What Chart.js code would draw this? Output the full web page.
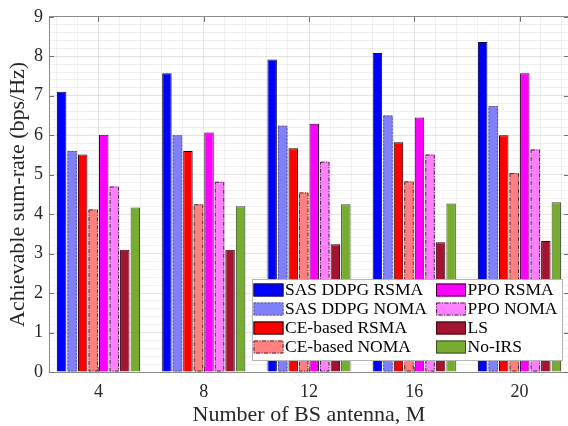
<!DOCTYPE html>
<html lang="en">
<head>
<meta charset="utf-8" />
<title>Achievable sum-rate vs BS antennas</title>
<script src="https://cdn.jsdelivr.net/npm/chart.js"></script>
<style>
    html, body { margin: 0; padding: 0; background: #fff; overflow: hidden; }
</style>
</head>
<body>
<canvas id="rateChart" width="570" height="426"></canvas>
<script>
    // number of BS antennas (x axis)
    var antennas = [4, 8, 12, 16, 20];

    // achievable sum-rate per scheme (bps/Hz)
    var sasDdpgRsma = [7.10, 7.57, 7.92, 8.08, 8.36];
    var sasDdpgNoma = [5.60, 6.00, 6.24, 6.50, 6.74];
    var ceRsma      = [5.51, 5.60, 5.67, 5.82, 6.00];
    var ceNoma      = [4.12, 4.25, 4.55, 4.83, 5.04];
    var ppoRsma     = [6.01, 6.07, 6.29, 6.45, 7.57];
    var ppoNoma     = [4.70, 4.82, 5.33, 5.51, 5.64];
    var lsRate      = [3.10, 3.10, 3.24, 3.29, 3.32];
    var noIrs       = [4.17, 4.20, 4.25, 4.27, 4.30];

    var seriesNames = ['SAS DDPG RSMA', 'SAS DDPG NOMA', 'CE-based RSMA', 'CE-based NOMA',
                       'PPO RSMA', 'PPO NOMA', 'LS', 'No-IRS'];
    var seriesValues = [sasDdpgRsma, sasDdpgNoma, ceRsma, ceNoma, ppoRsma, ppoNoma, lsRate, noIrs];

    // fill, edge colour and (for NOMA bars) edge dash pattern
    var styles = [
        { fill: '#0000ff', edge: '#10104a' },
        { fill: '#8080ff', edge: '#5a5a7a', dash: [2, 1.5] },
        { fill: '#ff0000', edge: '#1a0000' },
        { fill: '#ff8080', edge: '#4a3030', dash: [4, 1.5, 1, 1.5] },
        { fill: '#ff00ff', edge: '#3a003a' },
        { fill: '#ff80ff', edge: '#3a2a3a', dash: [4, 1.5, 1, 1.5] },
        { fill: '#a2142f', edge: '#3a0810' },
        { fill: '#77ac30', edge: '#3a4a2a' }
    ];

    var xMin = 2.12, xMax = 21.88;
    var textColor = '#262626';
    var axisColor = '#8c8c8c';
    var majorGrid = 'rgba(0,0,0,0.11)';
    var minorGrid = 'rgba(0,0,0,0.06)';
    var serif = 'Liberation Serif';

    var datasets = seriesNames.map(function (name, s) {
        var st = styles[s];
        return {
            label: name,
            data: seriesValues[s].map(function (v, i) { return { x: antennas[i], y: v }; }),
            backgroundColor: st.fill,
            borderColor: st.edge,
            borderWidth: st.dash ? 0 : 1,
            edgeDash: st.dash || null,
            categoryPercentage: 0.8,
            barPercentage: 0.9
        };
    });

    // dashed outlines for the NOMA bars
    var dashedEdges = {
        id: 'dashedEdges',
        afterDatasetsDraw: function (chart) {
            var ctx = chart.ctx;
            chart.data.datasets.forEach(function (ds, di) {
                if (!ds.edgeDash) return;
                var meta = chart.getDatasetMeta(di);
                ctx.save();
                ctx.strokeStyle = ds.borderColor;
                ctx.lineWidth = 1;
                ctx.setLineDash(ds.edgeDash);
                meta.data.forEach(function (bar) {
                    var p = bar.getProps(['x', 'y', 'base', 'width'], true);
                    ctx.strokeRect(p.x - p.width / 2 + 0.5, p.y + 0.5, p.width - 1, p.base - p.y - 1);
                });
                ctx.restore();
            });
        }
    };

    // inward tick marks on all four sides of the box
    var boxTicks = {
        id: 'boxTicks',
        beforeDatasetsDraw: function (chart) {
            var ctx = chart.ctx, a = chart.chartArea;
            var xs = chart.scales.x, ys = chart.scales.y;
            ctx.save();
            ctx.strokeStyle = '#707070';
            ctx.lineWidth = 1;
            ctx.beginPath();
            ys.ticks.forEach(function (t) {
                var py = Math.round(ys.getPixelForValue(t.value)) + 0.5;
                ctx.moveTo(a.left, py); ctx.lineTo(a.left + 5, py);
                ctx.moveTo(a.right - 5, py); ctx.lineTo(a.right, py);
            });
            xs.ticks.forEach(function (t) {
                var px = Math.round(xs.getPixelForValue(t.value)) + 0.5;
                ctx.moveTo(px, a.bottom); ctx.lineTo(px, a.bottom - 5);
                ctx.moveTo(px, a.top); ctx.lineTo(px, a.top + 5);
            });
            ctx.stroke();
            ctx.restore();
        }
    };

    // two-column boxed legend inside the lower right of the plot
    var boxLegend = {
        id: 'boxLegend',
        afterDraw: function (chart) {
            var ctx = chart.ctx, a = chart.chartArea;
            var left = a.right - 317, top = a.bottom - 93, w = 310, h = 81;
            ctx.save();
            ctx.fillStyle = '#ffffff';
            ctx.fillRect(left, top, w, h);
            ctx.strokeStyle = '#b4b4b4';
            ctx.lineWidth = 1;
            ctx.strokeRect(left + 0.5, top + 0.5, w, h);
            ctx.font = '17.5px "' + serif + '"';
            ctx.textBaseline = 'middle';
            chart.data.datasets.forEach(function (ds, i) {
                var col = Math.floor(i / 4), row = i % 4;
                var sx = left + 1.5 + col * 182.5;
                var cy = top + 11 + row * 19;
                ctx.fillStyle = ds.backgroundColor;
                ctx.fillRect(sx, cy - 6.5, 30, 13);
                ctx.strokeStyle = ds.borderColor;
                ctx.setLineDash(ds.edgeDash || []);
                ctx.strokeRect(sx + 0.5, cy - 6.5 + 0.5, 29, 12);
                ctx.setLineDash([]);
                ctx.fillStyle = '#000000';
                ctx.fillText(ds.label, sx + 31.5, cy + 0.5);
            });
            ctx.restore();
        }
    };

    new Chart(document.getElementById('rateChart'), {
        type: 'bar',
        data: { datasets: datasets },
        plugins: [dashedEdges, boxTicks, boxLegend],
        options: {
            responsive: false,
            animation: false,
            layout: { padding: { top: 12, right: 1, left: 0, bottom: 0 } },
            plugins: {
                legend: { display: false },
                tooltip: { enabled: false }
            },
            scales: {
                x: {
                    type: 'linear',
                    position: 'bottom',
                    offset: false,
                    min: xMin,
                    max: xMax,
                    afterBuildTicks: function (s) {
                        s.ticks = antennas.map(function (v) { return { value: v }; });
                    },
                    afterFit: function (s) { s.height = 54; },
                    grid: { color: majorGrid, drawTicks: false, offset: false },
                    border: { display: true, color: axisColor },
                    ticks: {
                        color: textColor,
                        padding: 9,
                        font: { family: serif, size: 18 }
                    },
                    title: {
                        display: true,
                        text: 'Number of BS antenna, M',
                        color: textColor,
                        padding: { top: 0, bottom: 0 },
                        font: { family: serif, size: 22, lineHeight: 1 }
                    }
                },
                xMinor: {
                    type: 'linear',
                    position: 'top',
                    offset: false,
                    min: xMin,
                    max: xMax,
                    afterBuildTicks: function (s) {
                        var t = [];
                        for (var k = 3; k <= 27; k++) {
                            if (k % 5 !== 0) t.push({ value: k * 0.8 });
                        }
                        s.ticks = t;
                    },
                    afterFit: function (s) { s.height = 0; },
                    grid: { color: minorGrid, drawTicks: false, offset: false },
                    border: { display: true, color: axisColor },
                    ticks: { display: false }
                },
                y: {
                    position: 'left',
                    min: 0,
                    max: 9,
                    afterFit: function (s) { s.width = 49; },
                    grid: { color: majorGrid, drawTicks: false },
                    border: { display: true, color: axisColor },
                    ticks: {
                        stepSize: 1,
                        color: textColor,
                        padding: 6,
                        font: { family: serif, size: 18 }
                    },
                    title: {
                        display: true,
                        text: 'Achievable sum-rate (bps/Hz)',
                        color: textColor,
                        padding: { top: 7, bottom: 0 },
                        font: { family: serif, size: 22, lineHeight: 1 }
                    }
                },
                yMinor: {
                    type: 'linear',
                    position: 'right',
                    min: 0,
                    max: 9,
                    afterFit: function (s) { s.width = 0; },
                    grid: {
                        drawTicks: false,
                        color: function (c) {
                            return Math.abs(c.tick.value - Math.round(c.tick.value)) < 1e-6 ? 'rgba(0,0,0,0)' : minorGrid;
                        }
                    },
                    border: { display: false },
                    ticks: { display: false, stepSize: 0.2 }
                }
            }
        }
    });
</script>
</body>
</html>
